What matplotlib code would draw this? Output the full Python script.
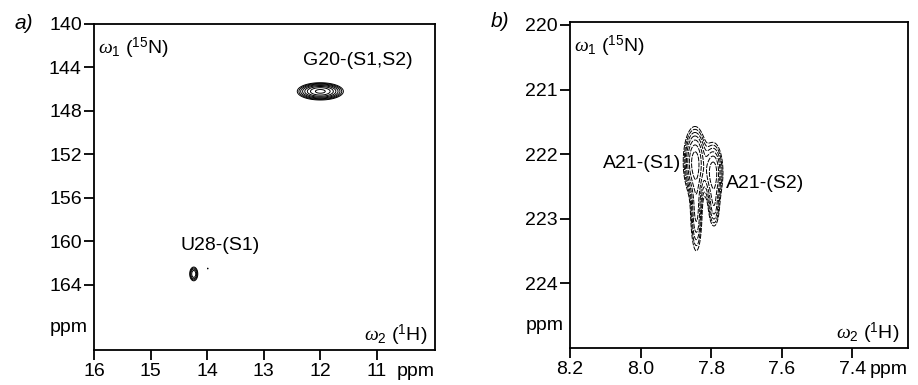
import numpy as np
import matplotlib.pyplot as plt

plt.rcParams['font.family'] = ['Liberation Sans', 'DejaVu Sans']
plt.rcParams['mathtext.fontset'] = 'custom'
plt.rcParams['mathtext.it'] = 'Liberation Serif:italic'
plt.rcParams['mathtext.rm'] = 'Liberation Sans'

# peaks: (1H ppm, 15N ppm, width 1H, width 15N, amplitude)
peaks_a = [(12.00, 146.2, 0.19, 0.37, 1.0),
           (14.24, 163.0, 0.045, 0.40, 0.35),
           (13.99, 162.5, 0.008, 0.08, 0.12)]
peaks_b = [(7.846, 222.12, 0.017, 0.28, 1.0),
           (7.842, 222.85, 0.010, 0.40, 0.55),
           (7.794, 222.28, 0.015, 0.25, 0.80),
           (7.792, 222.80, 0.010, 0.22, 0.40)]

labels_a = [("G20-(S1,S2)", 11.33, 143.4, 'center'),
            ("U28-(S1)", 13.77, 160.4, 'center')]
labels_b = [("A21-(S1)", 7.885, 222.15, 'right'),
            ("A21-(S2)", 7.757, 222.45, 'left')]

xticks_a = [16, 15, 14, 13, 12, 11]
yticks_a = [140, 144, 148, 152, 156, 160, 164]
xticks_b = [8.2, 8.0, 7.8, 7.6, 7.4]
yticks_b = [220, 221, 222, 223, 224]


def spectrum(peaks, xr, yr):
    x = np.linspace(xr[0], xr[1], 700)
    y = np.linspace(yr[0], yr[1], 700)
    X, Y = np.meshgrid(x, y)
    Z = np.zeros_like(X)
    for px, py, sx, sy, amp in peaks:
        Z += amp * np.exp(-((X - px) / sx) ** 2 / 2 - ((Y - py) / sy) ** 2 / 2)
    return X, Y, Z


fig = plt.figure(figsize=(9.18, 3.85), dpi=100)
ax1 = fig.add_axes([0.1027, 0.0909, 0.3712, 0.8468])
ax2 = fig.add_axes([0.6209, 0.0961, 0.3679, 0.8475])

X, Y, Z = spectrum(peaks_a, (16, 10), (140, 170))
ax1.contour(X, Y, Z, levels=np.geomspace(0.1, 0.9, 8), colors='black', linewidths=0.7)
X, Y, Z = spectrum(peaks_b, (8.2, 7.24), (219.9, 225))
ax2.contour(X, Y, Z, levels=np.geomspace(0.15, 0.9, 7), colors='black',
            linewidths=0.7, linestyles=[(0, (5, 1.2))])

ax1.set_xlim(16, 9.97)
ax1.set_ylim(170, 140)
ax2.set_xlim(8.2, 7.243)
ax2.set_ylim(225, 219.95)

ax1.set_xticks(xticks_a)
ax1.set_yticks(yticks_a)
ax2.set_xticks(xticks_b)
ax2.set_xticklabels(['8.2', '8.0', '7.8', '7.6', '7.4'])
ax2.set_yticks(yticks_b)

for ax, lab, labels in [(ax1, 'a)', labels_a), (ax2, 'b)', labels_b)]:
    for s in ax.spines.values():
        s.set_linewidth(1.3)
    ax.tick_params(direction='out', length=7, width=1.3, labelsize=14, pad=2)
    ax.text(0.012, 0.925, r'$\omega_1$ ($^{15}$N)', transform=ax.transAxes,
            fontsize=14, ha='left', va='center')
    ax.text(0.976, 0.046, r'$\omega_2$ ($^{1}$H)', transform=ax.transAxes,
            fontsize=14, ha='right', va='center')
    ax.text(-0.02, 0.068, 'ppm', transform=ax.transAxes, fontsize=14,
            ha='right', va='center')
    ax.annotate('ppm', xy=(1.0, 0), xycoords='axes fraction',
                xytext=(0, -9), textcoords='offset points',
                fontsize=14, ha='right', va='top')
    ax.text(-0.18, 1.0, lab, transform=ax.transAxes, fontsize=15,
            ha='right', va='center', style='italic')
    for t, x, y, ha in labels:
        ax.text(x, y, t, fontsize=14, ha=ha, va='center')

fig.savefig('out.png', dpi=100)
